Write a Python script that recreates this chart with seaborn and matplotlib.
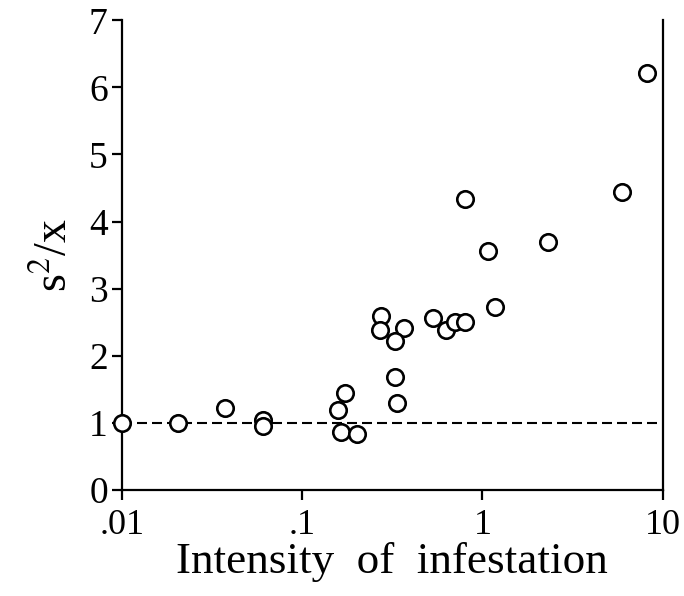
import matplotlib
matplotlib.use("Agg")
import matplotlib.pyplot as plt
import seaborn as sns
import pandas as pd

# Data
intensity = [0.01, 0.0204, 0.0374, 0.0608, 0.0608, 0.159, 0.174, 0.165, 0.202,
             0.275, 0.270, 0.368, 0.327, 0.327, 0.334, 0.529, 0.624, 0.703, 0.798,
             1.17, 8.19, 5.95, 0.80, 1.07, 2.30]
variance_mean_ratio = [1.00, 1.00, 1.22, 1.04, 0.96, 1.19, 1.44, 0.87, 0.84,
                       2.59, 2.38, 2.42, 2.22, 1.69, 1.30, 2.56, 2.38, 2.50, 2.50,
                       2.72, 6.22, 4.44, 4.33, 3.56, 3.70]
x_ticks = [0.01, 0.1, 1, 10]
x_tick_labels = [".01", ".1", "1", "10"]
y_ticks = [0, 1, 2, 3, 4, 5, 6, 7]
reference_level = 1.0

df = pd.DataFrame({"intensity": intensity, "ratio": variance_mean_ratio})

sns.set_style("ticks")
plt.rcParams["font.family"] = ["Liberation Serif", "DejaVu Serif"]
plt.rcParams["mathtext.fontset"] = "stix"
plt.rcParams["text.color"] = "black"
plt.rcParams["axes.labelcolor"] = "black"

fig = plt.figure(figsize=(6.84, 5.96), dpi=100)
ax = fig.add_axes([0.178, 0.178, 0.791, 0.788])

ax.plot([x_ticks[0], x_ticks[-1]], [reference_level, reference_level],
        linestyle=(0, (4.8, 2.4)), color="black", linewidth=1.5, zorder=1)

sns.scatterplot(data=df, x="intensity", y="ratio", ax=ax, s=140,
                facecolor="white", edgecolor="black", linewidth=1.9,
                marker="o", zorder=3, clip_on=False, legend=False)

ax.set_xscale("log")
ax.set_xlim(0.01, 10)
ax.set_ylim(0, 7)
ax.set_xticks(x_ticks)
ax.set_xticklabels(x_tick_labels)
ax.xaxis.set_minor_locator(matplotlib.ticker.NullLocator())
ax.set_yticks(y_ticks)

for side in ["left", "bottom", "right"]:
    ax.spines[side].set_linewidth(1.6)
    ax.spines[side].set_color("black")
ax.spines["top"].set_visible(False)

ax.tick_params(axis="both", direction="out", length=7, width=1.6,
               colors="black")
ax.tick_params(axis="y", labelsize=27, pad=3)
ax.tick_params(axis="x", labelsize=26, pad=7)

ax.set_xlabel("Intensity  of  infestation", fontsize=32.5, labelpad=0)
ax.set_ylabel(r"s$^{2}$/x", fontsize=33, labelpad=9)

fig.savefig("out.png", dpi=100)
